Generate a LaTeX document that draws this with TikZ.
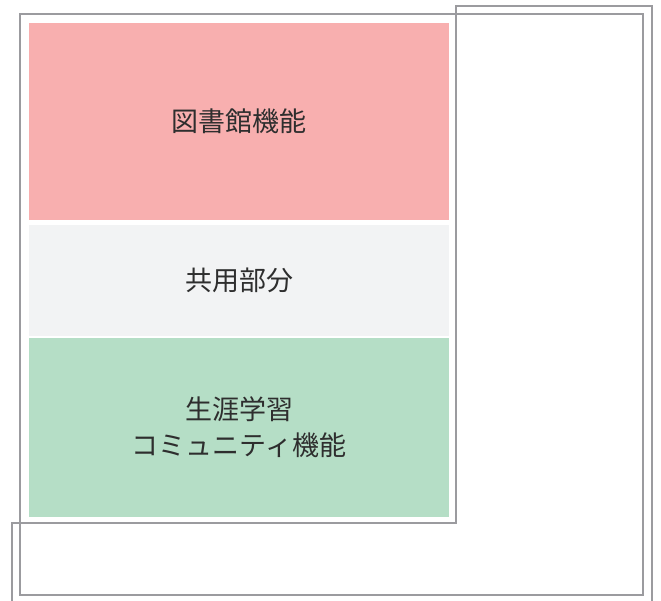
\documentclass[tikz,border=0pt]{standalone}
\usepackage{fontspec}
\setmainfont{Noto Sans CJK JP}
\definecolor{pinkfill}{HTML}{F8AFAF}
\definecolor{grayfill}{HTML}{F2F3F4}
\definecolor{greenfill}{HTML}{B5DEC6}
\definecolor{outline}{HTML}{9B9B9F}
\definecolor{txt}{HTML}{2E2E2E}
\tikzset{
  block/.style={rectangle, inner sep=0pt, minimum width=420pt, text=txt,
    font=\fontsize{27}{36}\selectfont, align=center},
  frame/.style={draw=outline, line width=2.6pt}
}
\begin{document}
\begin{tikzpicture}[x=1pt,y=-1pt]
\useasboundingbox (0,0) rectangle (661,601);
\clip (0,0) rectangle (661,601);
% outline frames
\draw[frame] (20,14) rectangle (643,595);
\draw[frame] (12,610) -- (12,523) -- (456,523) -- (456,6) -- (652,6) -- (652,610);
% blocks
\node[block, fill=pinkfill, minimum height=197pt] (lib) at (239,121.5) {図書館機能};
\node[block, fill=grayfill, minimum height=111pt] (shared) at (239,280.5) {共用部分};
\node[block, fill=greenfill, minimum height=179pt] (comm) at (239,427.5) {生涯学習\\コミュニティ機能};
\end{tikzpicture}
\end{document}
